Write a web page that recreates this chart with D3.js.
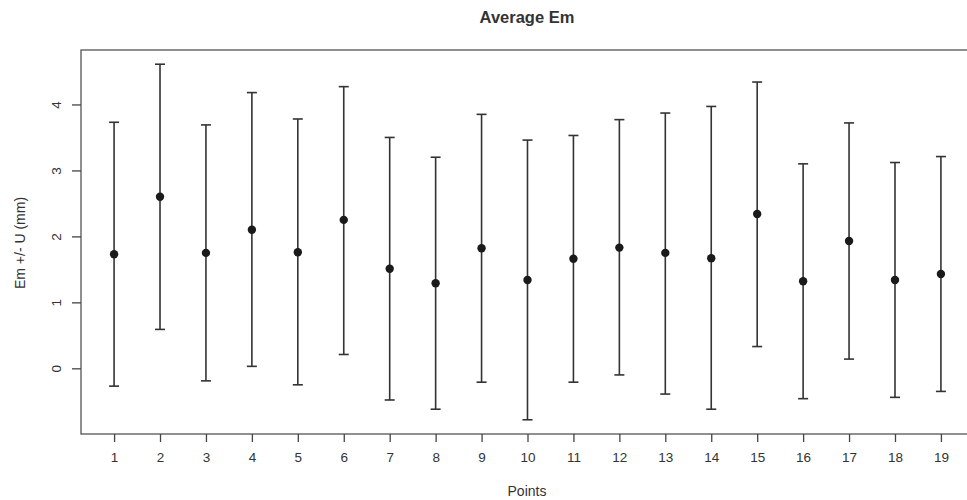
<!DOCTYPE html>
<html>
<head>
<meta charset="utf-8">
<script src="https://cdn.jsdelivr.net/npm/d3@7"></script>
<style>
  body { margin: 0; background: #fff; }
  text { font-family: "Liberation Sans", Arial, sans-serif; fill: #333; }
</style>
</head>
<body>
<div id="chart"></div>
<script>
// points 1..19
const points = [1, 2, 3, 4, 5, 6, 7, 8, 9, 10, 11, 12, 13, 14, 15, 16, 17, 18, 19];
// average Em
const means = [1.73, 2.60, 1.75, 2.10, 1.76, 2.25, 1.51, 1.29, 1.82, 1.34, 1.66, 1.83, 1.75, 1.67, 2.34, 1.32, 1.93, 1.34, 1.43];
// Em + U
const upper = [3.73, 4.61, 3.69, 4.18, 3.78, 4.27, 3.50, 3.20, 3.85, 3.46, 3.53, 3.77, 3.87, 3.97, 4.34, 3.10, 3.72, 3.12, 3.21];
// Em - U
const lower = [-0.27, 0.59, -0.19, 0.03, -0.25, 0.21, -0.48, -0.62, -0.21, -0.78, -0.21, -0.10, -0.39, -0.62, 0.33, -0.46, 0.14, -0.44, -0.35];
const yTicks = [0, 1, 2, 3, 4];

const W = 967, H = 500;
const box = { left: 81, right: 974, top: 50, bottom: 434 };

const svg = d3.select("#chart").append("svg")
    .attr("width", W)
    .attr("height", H);

// R style 4% padding on both axes
const xPad = (d3.max(points) - d3.min(points)) * 0.04;
const x = d3.scaleLinear()
    .domain([d3.min(points) - xPad, d3.max(points) + xPad])
    .range([box.left, box.right]);

const yMin = d3.min(lower), yMax = d3.max(upper);
const yPad = (yMax - yMin) * 0.04;
const y = d3.scaleLinear()
    .domain([yMin - yPad, yMax + yPad])
    .range([box.bottom, box.top]);

// box
svg.append("rect")
    .attr("x", box.left).attr("y", box.top)
    .attr("width", box.right - box.left).attr("height", box.bottom - box.top)
    .attr("fill", "none").attr("stroke", "#555").attr("stroke-width", 1.3);

// x axis
const xAxis = svg.append("g")
    .attr("transform", `translate(0,${box.bottom})`)
    .call(d3.axisBottom(x).tickValues(points).tickFormat(d3.format("d"))
        .tickSize(8).tickPadding(10).tickSizeOuter(0));
xAxis.select(".domain").remove();
xAxis.selectAll("line").attr("stroke", "#444").attr("stroke-width", 1.3);
xAxis.selectAll("text").style("font-size", "13.5px").attr("fill", "#333");

// y axis
const yAxis = svg.append("g")
    .attr("transform", `translate(${box.left},0)`)
    .call(d3.axisLeft(y).tickValues(yTicks).tickFormat(d3.format("d"))
        .tickSize(9).tickSizeOuter(0));
yAxis.select(".domain").remove();
yAxis.selectAll("line").attr("stroke", "#444").attr("stroke-width", 1.3);
yAxis.selectAll("text")
    .style("font-size", "13.5px").attr("fill", "#333")
    .attr("text-anchor", "middle")
    .attr("x", 0).attr("dy", 0)
    .attr("transform", "translate(-25,0) rotate(-90)")
    .attr("dominant-baseline", "central");

// error bars
const bars = svg.append("g");
points.forEach((p, i) => {
    bars.append("line")
        .attr("x1", x(p)).attr("x2", x(p))
        .attr("y1", y(upper[i])).attr("y2", y(lower[i]))
        .attr("stroke", "#333").attr("stroke-width", 1.6);
    [upper[i], lower[i]].forEach(v => {
        bars.append("line")
            .attr("x1", x(p) - 5).attr("x2", x(p) + 5)
            .attr("y1", y(v)).attr("y2", y(v))
            .attr("stroke", "#333").attr("stroke-width", 1.6);
    });
});

// means
svg.append("g").selectAll("circle")
    .data(points)
    .join("circle")
    .attr("cx", d => x(d))
    .attr("cy", (d, i) => y(means[i]))
    .attr("r", 4.2)
    .attr("fill", "#1a1a1a");

// title
svg.append("text")
    .attr("x", 527).attr("y", 23)
    .attr("text-anchor", "middle")
    .style("font-size", "16.5px").attr("font-weight", "bold")
    .text("Average Em");

// axis labels
svg.append("text")
    .attr("x", 527).attr("y", 496)
    .attr("text-anchor", "middle")
    .style("font-size", "14px")
    .text("Points");

svg.append("text")
    .attr("transform", "translate(25,243) rotate(-90)")
    .attr("text-anchor", "middle")
    .style("font-size", "14px")
    .text("Em +/- U (mm)");
</script>
</body>
</html>
